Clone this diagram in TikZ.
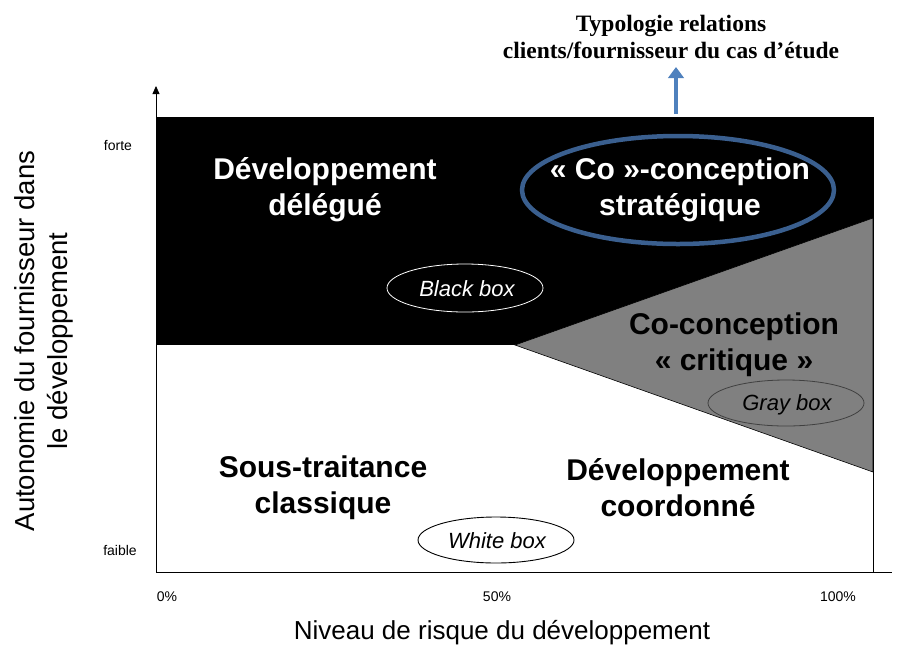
\documentclass[tikz,border=0pt]{standalone}
\usepackage{fontspec}
\setmainfont{Liberation Sans}
\newfontfamily\titlefont{Liberation Serif}
\usetikzlibrary{arrows.meta}
\definecolor{ovalblue}{HTML}{3A5F8F}
\definecolor{arrowblue}{HTML}{4F81BD}
\begin{document}
\begin{tikzpicture}[x=1pt,y=-1pt,
  big/.style={font=\fontsize{30}{36}\selectfont\bfseries, align=center, inner sep=0pt},
  boxlab/.style={font=\fontsize{22}{26}\selectfont\itshape, inner sep=0pt},
  tick/.style={font=\fontsize{14}{16}\selectfont, inner sep=0pt},
  axlab/.style={font=\fontsize{26}{32}\selectfont, align=center, inner sep=0pt}]
\useasboundingbox (0,0) rectangle (897,649);
% regions
\fill[black] (156,117) rectangle (873,345);
\draw[black, fill=black!50, line width=0.6pt] (515,345) -- (873,218) -- (873,472) -- cycle;
\draw[black, line width=0.8pt] (156,117) rectangle (873,572);
% axes
\coordinate (o) at (156,572);
\coordinate (ytop) at (156,86);
\coordinate (xend) at (892,572);
\draw[line width=0.8pt, -{Triangle[length=8pt,width=7pt]}] (o) -- (ytop);
\draw[line width=1pt] (o) -- (xend);
% region labels
\node[big, text=white] (deleg) at (325,190) {Développement\\délégué};
\node[big, text=white] (costrat) at (680,190) {« Co »-conception\\stratégique};
\node[big] (cocrit) at (734,345) {Co-conception\\« critique »};
\node[big] (sous) at (323,488) {Sous-traitance\\classique};
\node[big] (coord) at (678,488) {Développement\\coordonné};
% ellipses
\draw[white, line width=0.8pt] (465,288) ellipse [x radius=78, y radius=24];
\node[boxlab, text=white] (bb) at (467,289) {Black box};
\draw[black!75, line width=0.8pt] (786,403) ellipse [x radius=78, y radius=23];
\node[boxlab] (gb) at (787,405) {Gray box};
\draw[black, line width=0.9pt] (496,540) ellipse [x radius=78, y radius=23];
\node[boxlab] (wb) at (497,541) {White box};
\draw[ovalblue, line width=4.5pt] (678,190) ellipse [x radius=156, y radius=54];
% title and arrow
\node[font=\titlefont\fontsize{23.5}{27}\selectfont\bfseries, align=center, inner sep=0pt] (title) at (671,37) {Typologie relations\\clients/fournisseur du cas d’étude};
\coordinate (arrbase) at (676,114);
\coordinate (arrtip) at (676,67);
\draw[arrowblue, line width=3.5pt, -{Triangle[length=11pt,width=18pt,angle'=70]}] (arrbase) -- (arrtip);
% ticks
\node[tick] (forte) at (118,145) {forte};
\node[tick] (faible) at (120,550) {faible};
\node[tick] (p0) at (167,597) {0\%};
\node[tick] (p50) at (497,597) {50\%};
\node[tick] (p100) at (838,597) {100\%};
% axis labels
\node[axlab] (xlab) at (502,633) {Niveau de risque du développement};
\node[axlab, font=\fontsize{27.5}{33}\selectfont, rotate=90] (ylab) at (44,341) {Autonomie du fournisseur dans\\le développement};
\end{tikzpicture}
\end{document}
